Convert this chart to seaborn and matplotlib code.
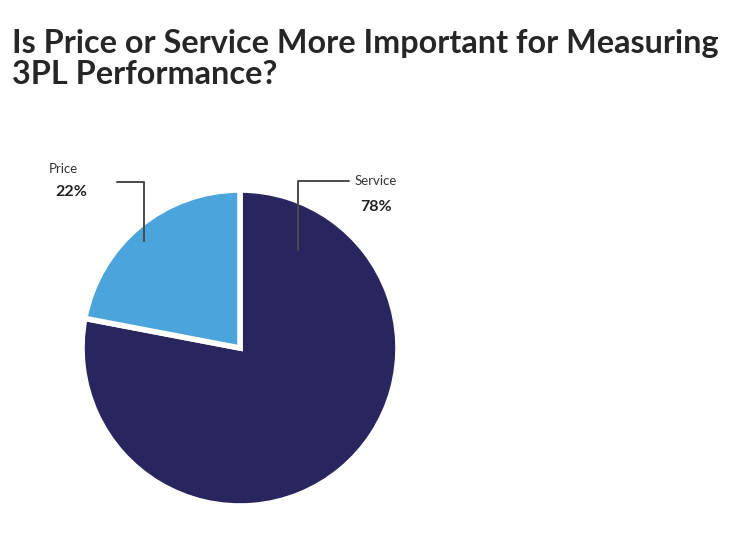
import matplotlib
matplotlib.use("Agg")
import matplotlib.pyplot as plt
import seaborn as sns

# datos
segmentos = ["Service", "Price"]
porcentajes = [78, 22]
colores = ["#29255f", "#4ca4dc"]

sns.set_theme(style="white")
plt.rcParams["font.family"] = ["Lato", "DejaVu Sans"]

fig = plt.figure(figsize=(7.5, 5.37), dpi=100)
fig.patch.set_facecolor("white")

# titulo arriba a la izquierda
fig.text(0.016, 0.946, "Is Price or Service More Important for Measuring\n3PL Performance?",
         ha="left", va="top", fontsize=23.3, fontweight="bold", color="#262626",
         linespacing=1.1)

# pie centrado en (240, 348) px con radio 158 px
cx, cy, r = 240, 348, 158
ax = fig.add_axes([(cx - r) / 750, (537 - cy - r) / 537, 2 * r / 750, 2 * r / 537])
wedges, _ = ax.pie(porcentajes, colors=colores, startangle=90, counterclock=False,
                   wedgeprops=dict(edgecolor="white", linewidth=4))
ax.set_xlim(-1, 1)
ax.set_ylim(-1, 1)
ax.set_aspect("equal")
ax.axis("off")

# etiquetas con lineas guia
gris = "#4a4a4a"
ax.plot([-0.78, -0.61, -0.61], [1.05, 1.05, 0.68], color=gris, lw=1.4, clip_on=False)
ax.plot([0.69, 0.37, 0.37], [1.06, 1.06, 0.62], color=gris, lw=1.4, clip_on=False)

ax.text(-1.12, 1.135, segmentos[1], ha="center", va="center", fontsize=9.5, color="#333333")
ax.text(-1.07, 0.985, f"{porcentajes[1]}%", ha="center", va="center", fontsize=11.5,
        fontweight="bold", color="#222222")
ax.text(0.86, 1.06, segmentos[0], ha="center", va="center", fontsize=9.5, color="#333333")
ax.text(0.86, 0.89, f"{porcentajes[0]}%", ha="center", va="center", fontsize=11.5,
        fontweight="bold", color="#222222")

fig.savefig("out.png", dpi=100, facecolor="white")
